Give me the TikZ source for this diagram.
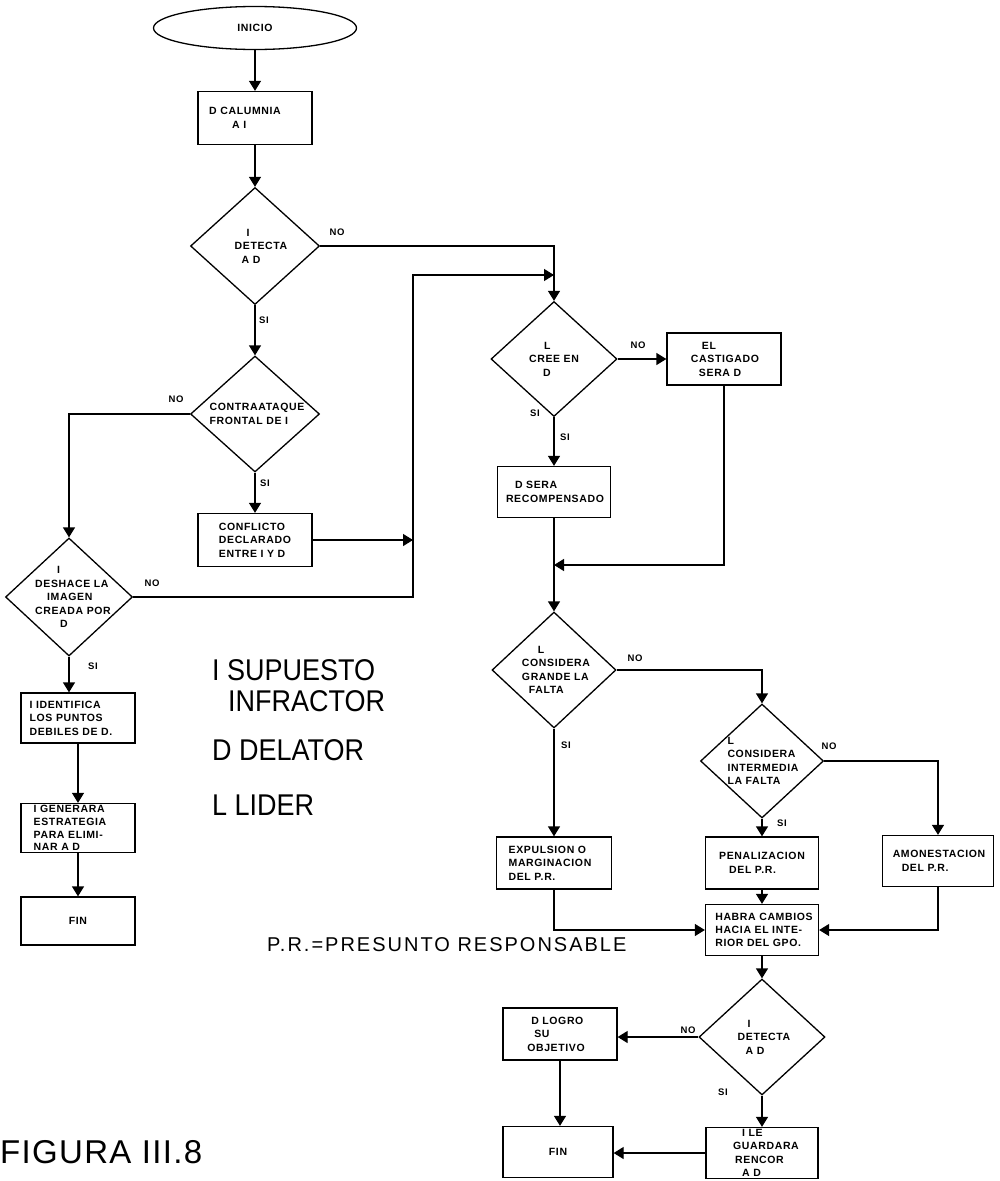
\documentclass[tikz,border=0pt]{standalone}
\usepackage{fontspec}
\setmainfont{Liberation Sans}
\newfontfamily\flowfont[LetterSpace=6]{Liberation Sans}
\newfontfamily\legendfont[FakeStretch=0.9]{Liberation Sans}
\newfontfamily\notefont[LetterSpace=10]{Liberation Sans}
\newfontfamily\figfont[LetterSpace=4]{Liberation Sans}
\usetikzlibrary{shapes.geometric,arrows.meta}
\begin{document}
\begin{tikzpicture}[x=1pt,y=-1pt,
  flow/.style={line width=1.3pt,-{Triangle[length=10pt,width=12pt]}},
  txt/.style={font=\flowfont\bfseries\fontsize{10.5}{13.5}\selectfont,align=left,inner sep=0pt},
  procbox/.style={draw,line width=1.3pt,rectangle,inner sep=0pt,minimum width=114pt,minimum height=52pt},
  decision/.style={draw,line width=1.3pt,diamond,inner sep=0pt,minimum width=127pt,minimum height=116pt},
  terminal/.style={draw,line width=1.3pt,ellipse,inner sep=0pt,minimum width=203pt,minimum height=43pt},
  tag/.style={font=\flowfont\bfseries\fontsize{9.5}{11}\selectfont,inner sep=0pt},
  legend/.style={font=\legendfont\fontsize{30}{34}\selectfont,anchor=base west,inner sep=0pt},
]
\useasboundingbox (0,0) rectangle (999,1181);

% ---------- left branch ----------
\node[terminal,label={[txt]center:INICIO}] (inicio) at (255,28) {};
\node[procbox,minimum height=53pt,label={[txt,xshift=-10pt]center:{D CALUMNIA\\\hspace*{23pt}A I}}] (calumnia) at (255,118) {};
\node[decision,minimum width=129pt,minimum height=117pt,label={[txt,xshift=6pt]center:{\hspace*{12pt}I\\DETECTA\\\hspace*{7pt}A D}}] (d1) at (255,246) {};
\node[decision,minimum width=129pt,label={[txt,xshift=2pt]center:{CONTRAATAQUE\\FRONTAL DE I}}] (contra) at (255,414) {};
\node[procbox,minimum height=53pt,label={[txt]center:{CONFLICTO\\DECLARADO\\ENTRE I Y D}}] (conflicto) at (255,540) {};
\node[decision,minimum height=118pt,label={[txt,xshift=4pt]center:{\hspace*{22pt}I\\DESHACE LA\\\hspace*{12pt}IMAGEN\\CREADA POR\\\hspace*{25pt}D}}] (deshace) at (69,597) {};
\node[procbox,minimum height=50pt,label={[txt,xshift=-7pt]center:{I IDENTIFICA\\LOS PUNTOS\\DEBILES DE D.}}] (identifica) at (78,718) {};
\node[procbox,minimum height=49pt,label={[txt,xshift=-8pt,font=\flowfont\bfseries\fontsize{10.5}{12.7}\selectfont]center:{I GENERARA\\ESTRATEGIA\\PARA ELIMI-\\NAR A D}}] (generara) at (78,828) {};
\node[procbox,minimum height=48pt,label={[txt]center:FIN}] (fin1) at (78,921) {};

% ---------- right branch ----------
\node[decision,minimum width=126pt,minimum height=115pt,label={[txt]center:{\hspace*{15pt}L\\CREE EN\\\hspace*{14pt}D}}] (lcree) at (554,359) {};
\node[procbox,label={[txt,xshift=1pt]center:{\hspace*{11pt}EL\\CASTIGADO\\\hspace*{8pt}SERA D}}] (castigado) at (724,359) {};
\node[procbox,minimum width=113pt,minimum height=51pt,label={[txt,xshift=1pt]center:{\hspace*{9pt}D SERA\\RECOMPENSADO}}] (recomp) at (554,492) {};
\node[decision,minimum width=124pt,label={[txt,xshift=2pt]center:{\hspace*{16pt}L\\CONSIDERA\\GRANDE LA\\\hspace*{7pt}FALTA}}] (grande) at (554,670) {};
\node[decision,minimum width=123pt,minimum height=114pt,label={[txt,xshift=1pt]center:{L\\CONSIDERA\\INTERMEDIA\\LA FALTA}}] (inter) at (762,761) {};
\node[procbox,minimum width=115pt,label={[txt,xshift=-4pt]center:{EXPULSION O\\MARGINACION\\DEL P.R.}}] (expulsion) at (554,863) {};
\node[procbox,minimum width=113pt,label={[txt]center:{PENALIZACION\\\hspace*{10pt}DEL P.R.}}] (penal) at (762,863) {};
\node[procbox,minimum width=111pt,minimum height=51pt,label={[txt,xshift=1pt]center:{AMONESTACION\\\hspace*{9pt}DEL P.R.}}] (amon) at (938,861) {};
\node[procbox,minimum width=113pt,minimum height=51pt,label={[txt,xshift=2pt,font=\flowfont\bfseries\fontsize{10.5}{13}\selectfont]center:{HABRA CAMBIOS\\HACIA EL INTE-\\RIOR DEL GPO.}}] (habra) at (762,930) {};
\node[decision,minimum width=126pt,label={[txt,xshift=2pt]center:{\hspace*{10pt}I\\DETECTA\\\hspace*{8pt}A D}}] (d2) at (762,1037) {};
\node[procbox,label={[txt,xshift=-4pt]center:{\hspace*{4pt}D LOGRO\\\hspace*{7pt}SU\\OBJETIVO}}] (logro) at (560,1034) {};
\node[procbox,minimum width=110pt,minimum height=51pt,label={[txt]center:FIN}] (fin2) at (558,1152) {};
\node[procbox,minimum width=112pt,minimum height=51pt,label={[txt,xshift=4pt]center:{\hspace*{9pt}I LE\\GUARDARA\\\hspace*{2pt}RENCOR\\\hspace*{9pt}A D}}] (rencor) at (762,1153) {};

% ---------- junctions ----------
\coordinate (j1) at (413,540);
\coordinate (j2) at (413,275);
\coordinate (j3) at (554,565);

% ---------- connectors ----------
\draw[flow] (inicio) -- (calumnia);
\draw[flow] (calumnia) -- (d1);
\draw[flow] (d1.east) -| (lcree.north);
\draw[flow] (d1.south) -- (contra.north);
\draw[flow] (contra.west) -| (deshace.north);
\draw[flow] (contra.south) -- (conflicto.north);
\draw[flow] (conflicto.east) -- (j1);
\draw[flow] (deshace.east) -| (j2) -- (j2 -| lcree.north);
\draw[flow] (deshace.south) -- (deshace.south |- identifica.north);
\draw[flow] (identifica) -- (generara);
\draw[flow] (generara) -- (fin1);

\draw[flow] (lcree.east) -- (castigado.west);
\draw[flow] (lcree.south) -- (recomp.north);
\draw[flow] (castigado.south) |- (j3);
\draw[flow] (recomp.south) -- (grande.north);
\draw[flow] (grande.east) -| (inter.north);
\draw[flow] (grande.south) -- (expulsion.north);
\draw[flow] (inter.east) -| (amon.north);
\draw[flow] (inter.south) -- (penal.north);
\draw[flow] (penal.south) -- (habra.north);
\draw[flow] (expulsion.south) |- (habra.west);
\draw[flow] (amon.south) |- (habra.east);
\draw[flow] (habra.south) -- (d2.north);
\draw[flow] (d2.west) -- (d2.west -| logro.east);
\draw[flow] (d2.south) -- (rencor.north);
\draw[flow] (logro.south) -- (logro.south |- fin2.north);
\draw[flow] (rencor.west) -- (rencor.west -| fin2.east);

% ---------- branch tags ----------
\node[tag] (t1) at (337,232) {NO};
\node[tag] (t2) at (264,320) {SI};
\node[tag] (t3) at (176,399) {NO};
\node[tag] (t4) at (265,483) {SI};
\node[tag] (t5) at (152,583) {NO};
\node[tag] (t6) at (93,666) {SI};
\node[tag] (t7) at (638,345) {NO};
\node[tag] (t8) at (535,413) {SI};
\node[tag] (t9) at (565,437) {SI};
\node[tag] (t10) at (635,658) {NO};
\node[tag] (t11) at (566,745) {SI};
\node[tag] (t12) at (829,746) {NO};
\node[tag] (t13) at (782,823) {SI};
\node[tag] (t14) at (688,1030) {NO};
\node[tag] (t15) at (723,1092) {SI};

% ---------- legend ----------
\node[legend] (lg1) at (212,680) {I SUPUESTO};
\node[legend] (lg2) at (228,711) {INFRACTOR};
\node[legend] (lg3) at (212,760) {D DELATOR};
\node[legend] (lg4) at (212,815) {L LIDER};
\node[legend,font=\notefont\fontsize{20}{24}\selectfont] (lg5) at (267,951) {P.R.=PRESUNTO RESPONSABLE};
\node[legend,font=\figfont\fontsize{33}{40}\selectfont] (fig) at (0,1163) {FIGURA III.8};
\end{tikzpicture}
\end{document}
